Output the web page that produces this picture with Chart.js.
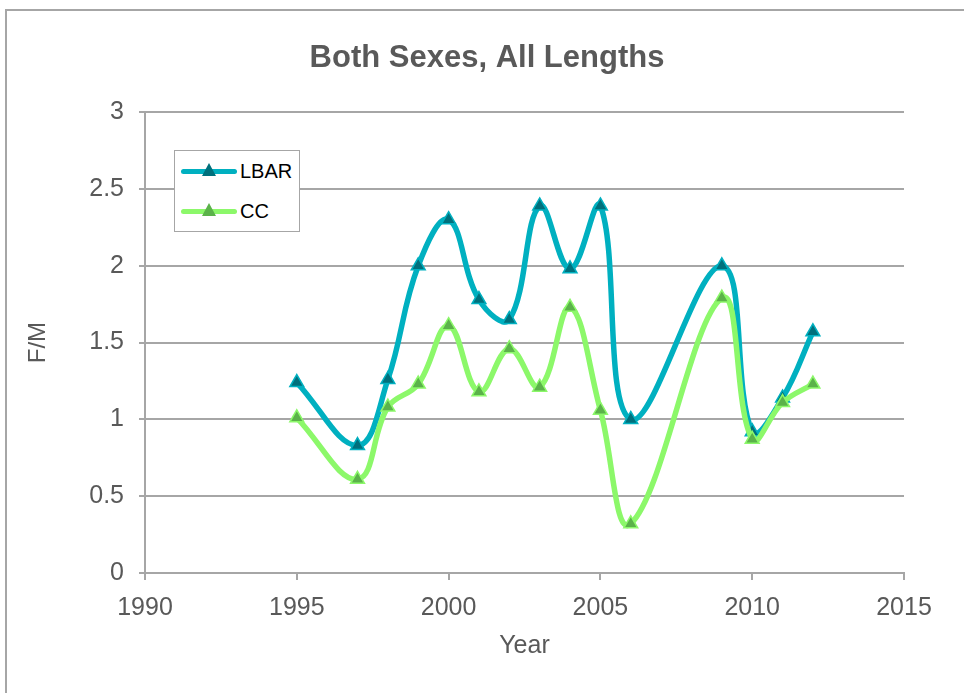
<!DOCTYPE html>
<html>
<head>
<meta charset="utf-8">
<script src="https://cdn.jsdelivr.net/npm/chart.js@4/dist/chart.umd.min.js"></script>
<style>
    html, body { margin: 0; padding: 0; background: #fff; overflow: hidden; width: 964px; height: 693px; }
    #frame {
        position: absolute; left: 5px; top: 9px; width: 1000px; height: 720px;
        border: 2px solid #a6a6a6; box-sizing: border-box;
    }
    #wrap { position: absolute; left: 0; top: 0; width: 974px; height: 693px; }
    #legend {
        position: absolute; left: 174px; top: 150px; width: 126px; height: 82px;
        border: 1.5px solid #a6a6a6; background: #fff; box-sizing: border-box;
        font-family: 'Liberation Sans', Arial, sans-serif; font-size: 20px; color: #000;
    }
    .item { position: absolute; left: 6px; height: 20px; display: flex; align-items: center; }
    .sample { position: relative; width: 56px; height: 20px; margin-right: 3px; }
    .sample .ln { position: absolute; left: 0; right: 0; top: 8px; height: 5px; border-radius: 3px; }
    .sample .tri {
        position: absolute; left: 21px; top: 2px; width: 0; height: 0;
        border-left: 7px solid transparent; border-right: 7px solid transparent;
        border-bottom: 13px solid;
    }
</style>
</head>
<body>
<div id="frame"></div>
<div id="wrap"><canvas id="chart" width="974" height="693"></canvas></div>
<div id="legend">
    <div class="item" style="top: 10px;">
        <div class="sample"><div class="ln" style="background:#00b0c0"></div><div class="tri" style="border-bottom-color:#00707c"></div></div>
        <span>LBAR</span>
    </div>
    <div class="item" style="top: 50px;">
        <div class="sample"><div class="ln" style="background:#8cf86a"></div><div class="tri" style="border-bottom-color:#5bb24a"></div></div>
        <span>CC</span>
    </div>
</div>
<script>
const years = [1995, 1997, 1998, 1999, 2000, 2001, 2002, 2003, 2004, 2005, 2006, 2009, 2010, 2011, 2012];
const lbarValues = [1.24, 0.83, 1.26, 2.0, 2.30, 1.78, 1.65, 2.39, 1.98, 2.39, 1.0, 2.0, 0.92, 1.14, 1.57];
const ccValues = [1.01, 0.61, 1.08, 1.23, 1.61, 1.18, 1.46, 1.21, 1.73, 1.06, 0.32, 1.79, 0.87, 1.11, 1.23];

const FONT = "'Liberation Sans', Arial, sans-serif";
const TEXT_COLOR = '#595959';
const GRID_COLOR = '#a6a6a6';

function toPoints(values) {
    return years.map((year, i) => ({x: year, y: values[i]}));
}

new Chart(document.getElementById('chart'), {
    type: 'line',
    data: {
        datasets: [{
            label: 'LBAR',
            data: toPoints(lbarValues),
            borderColor: '#00b0c0',
            backgroundColor: '#00707c',
            pointBackgroundColor: '#00707c',
            pointBorderColor: '#00b0c0',
            borderWidth: 5.5,
            pointStyle: 'triangle',
            pointRadius: 8,
            pointBorderWidth: 1.5,
            tension: 0.4,
            order: 1
        }, {
            label: 'CC',
            data: toPoints(ccValues),
            borderColor: '#8cf86a',
            backgroundColor: '#5bb24a',
            pointBackgroundColor: '#5bb24a',
            pointBorderColor: '#8cf86a',
            borderWidth: 5.5,
            pointStyle: 'triangle',
            pointRadius: 8,
            pointBorderWidth: 1.5,
            tension: 0.4,
            order: 0
        }]
    },
    options: {
        responsive: false,
        animation: false,
        layout: {padding: 0},
        plugins: {
            legend: {display: false},
            tooltip: {enabled: false},
            title: {
                display: true,
                text: 'Both Sexes, All Lengths',
                color: TEXT_COLOR,
                font: {family: FONT, size: 31, weight: 'bold', lineHeight: 1.2},
                padding: {top: 40, bottom: 35}
            }
        },
        scales: {
            x: {
                type: 'linear',
                min: 1990,
                max: 2015,
                afterFit: (scale) => { scale.height = 120; },
                ticks: {
                    stepSize: 5,
                    color: TEXT_COLOR,
                    font: {family: FONT, size: 25},
                    padding: 13,
                    maxRotation: 0,
                    callback: (v) => String(v)
                },
                grid: {drawOnChartArea: false, drawTicks: true, tickLength: 7, color: GRID_COLOR, lineWidth: 2},
                border: {color: GRID_COLOR, width: 2},
                title: {
                    display: true,
                    text: 'Year',
                    color: TEXT_COLOR,
                    font: {family: FONT, size: 25, lineHeight: 1.2},
                    padding: {top: 0, bottom: 32}
                }
            },
            y: {
                min: 0,
                max: 3,
                afterFit: (scale) => { scale.width = 145; },
                ticks: {
                    stepSize: 0.5,
                    color: TEXT_COLOR,
                    font: {family: FONT, size: 25},
                    padding: 15,
                    callback: (v) => String(v)
                },
                grid: {color: GRID_COLOR, lineWidth: 2, tickLength: 6},
                border: {color: GRID_COLOR, width: 2},
                title: {
                    display: true,
                    text: 'F/M',
                    color: TEXT_COLOR,
                    font: {family: FONT, size: 24, lineHeight: 1.2},
                    padding: {top: 24, bottom: 0}
                }
            },
            spacer: {
                type: 'linear',
                position: 'right',
                afterFit: (scale) => { scale.width = 70; },
                ticks: {display: false},
                grid: {display: false},
                border: {display: false}
            }
        }
    }
});
</script>
</body>
</html>
